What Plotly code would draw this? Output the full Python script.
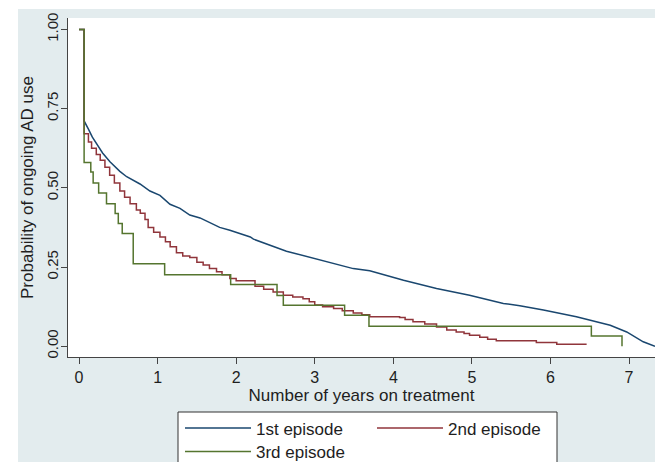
import plotly.graph_objects as go

# ---- data ----
# 1st episode (Kaplan-Meier estimate, dense steps -> drawn as a line)
t_ep1 = [0, 0.065, 0.065, 0.08, 0.12, 0.17, 0.225, 0.30, 0.394, 0.52, 0.607, 0.776, 0.903,
         1.03, 1.158, 1.285, 1.41, 1.54, 1.79, 1.92, 2.18, 2.22, 2.64, 3.07, 3.49, 3.70,
         4.13, 4.55, 4.97, 5.40, 5.61, 5.91, 6.33, 6.76, 6.97, 7.18, 7.33]
p_ep1 = [1.0, 1.0, 0.711, 0.705, 0.685, 0.66, 0.64, 0.61, 0.582, 0.552, 0.535, 0.512, 0.49,
         0.476, 0.448, 0.435, 0.414, 0.405, 0.375, 0.366, 0.345, 0.338, 0.30, 0.272, 0.245,
         0.238, 0.208, 0.182, 0.161, 0.135, 0.128, 0.114, 0.093, 0.066, 0.045, 0.014, 0.0]

# 2nd episode (step function)
t_ep2 = [0, 0.065, 0.12, 0.16, 0.22, 0.27, 0.33, 0.39, 0.45, 0.52, 0.58, 0.65, 0.73,
         0.78, 0.84, 0.88, 0.95, 1.03, 1.10, 1.16, 1.24, 1.32, 1.41, 1.50, 1.58, 1.66,
         1.75, 1.82, 1.92, 2.00, 2.24, 2.35, 2.47, 2.60, 2.72, 2.85, 2.93, 3.00, 3.10,
         3.24, 3.35, 3.49, 3.60, 3.70, 4.08, 4.15, 4.25, 4.40, 4.55, 4.68, 4.80, 4.90,
         4.97, 5.10, 5.20, 5.31, 5.82, 6.08, 6.46]
p_ep2 = [1.0, 0.671, 0.645, 0.625, 0.605, 0.587, 0.565, 0.54, 0.515, 0.49, 0.47, 0.45, 0.43,
         0.42, 0.40, 0.375, 0.36, 0.345, 0.33, 0.314, 0.295, 0.285, 0.28, 0.265, 0.256, 0.245,
         0.235, 0.226, 0.214, 0.207, 0.189, 0.18, 0.171, 0.161, 0.155, 0.15, 0.14, 0.13, 0.125,
         0.119, 0.112, 0.105, 0.099, 0.093, 0.091, 0.084, 0.077, 0.07, 0.061, 0.051, 0.045, 0.04,
         0.035, 0.028, 0.022, 0.017, 0.012, 0.006, 0.006]

# 3rd episode (step function)
t_ep3 = [0, 0.065, 0.15, 0.18, 0.25, 0.35, 0.46, 0.50, 0.55, 0.69, 1.09, 1.93, 2.52,
         2.60, 3.38, 3.69, 6.52, 6.91]
p_ep3 = [1.0, 0.58, 0.55, 0.515, 0.484, 0.45, 0.419, 0.387, 0.356, 0.26, 0.226, 0.195, 0.16,
         0.129, 0.098, 0.063, 0.0325, 0.0]

series_names = ["1st episode", "2nd episode", "3rd episode"]
y_tick_vals = [0, 0.25, 0.5, 0.75, 1.0]
y_tick_text = ["0.00", "0.25", "0.50", "0.75", "1.00"]
x_tick_vals = [0, 1, 2, 3, 4, 5, 6, 7]

# ---- figure ----
W, H = 655, 462
ML, MR, MT, MB = 68, 0, 18, 105
PW, PH = W - ML - MR, H - MT - MB

def px_x(px):
    return (px - ML) / PW

def px_y(py):
    return 1 - (py - MT) / PH

FONT = "Liberation Sans, Arial, Helvetica, sans-serif"
TXT = "#1e1e1e"
BG = "#e3ecee"

fig = go.Figure()
fig.add_trace(go.Scatter(x=t_ep1, y=p_ep1, mode="lines", name=series_names[0],
                         line=dict(color="#1a476f", width=1.5, shape="linear"),
                         legend="legend"))
fig.add_trace(go.Scatter(x=t_ep2, y=p_ep2, mode="lines", name=series_names[1],
                         line=dict(color="#90353b", width=1.5, shape="hv"),
                         legend="legend"))
fig.add_trace(go.Scatter(x=t_ep3, y=p_ep3, mode="lines", name=series_names[2],
                         line=dict(color="#55752f", width=1.5, shape="hv"),
                         legend="legend2"))

shapes = [
    # white strips at left and top of the picture
    dict(type="rect", xref="paper", yref="paper", x0=px_x(-5), x1=px_x(18),
         y0=px_y(H + 20), y1=px_y(-5), fillcolor="white", line=dict(width=0), layer="below"),
    dict(type="rect", xref="paper", yref="paper", x0=px_x(-5), x1=px_x(W + 5),
         y0=px_y(9), y1=px_y(-5), fillcolor="white", line=dict(width=0), layer="below"),
    # legend frame
    dict(type="rect", xref="paper", yref="paper", x0=px_x(178), x1=px_x(557),
         y0=px_y(480), y1=px_y(412), fillcolor="white",
         line=dict(color="#333333", width=1), layer="below"),
]

legend_common = dict(orientation="h", xanchor="left", yanchor="top",
                     bgcolor="rgba(0,0,0,0)", borderwidth=0, itemwidth=66,
                     font=dict(family=FONT, size=17, color=TXT), traceorder="normal")

fig.update_layout(
    width=W, height=H,
    margin=dict(l=ML, r=MR, t=MT, b=MB, autoexpand=False),
    paper_bgcolor=BG, plot_bgcolor="white",
    font=dict(family=FONT, size=17, color=TXT),
    showlegend=True,
    legend=dict(x=px_x(180), y=px_y(410.5), entrywidth=111, entrywidthmode="pixels",
                **legend_common),
    legend2=dict(x=px_x(180), y=px_y(434), **legend_common),
    shapes=shapes,
    xaxis=dict(range=[-0.14, 7.33], tickvals=x_tick_vals, ticks="outside", ticklen=6,
               tickcolor="#444", tickwidth=1, showline=True, linecolor="#444", linewidth=1,
               showgrid=False, zeroline=False, automargin=False,
               tickfont=dict(size=16, color=TXT),
               title=dict(text="Number of years on treatment", font=dict(size=17, color=TXT),
                          standoff=0)),
    yaxis=dict(range=[-0.034, 1.036], tickvals=y_tick_vals, ticktext=y_tick_text,
               ticks="outside", ticklen=6, tickcolor="#444", tickwidth=1,
               showline=True, linecolor="#444", linewidth=1, showgrid=False,
               zeroline=False, automargin=False, tickangle=-90, ticklabelstandoff=-3,
               tickfont=dict(size=15, color=TXT),
               title=dict(text="Probability of ongoing AD use", font=dict(size=17, color=TXT),
                          standoff=6)),
)

fig.write_html("out.html", config={"displayModeBar": False},
               post_script="document.body.style.margin='0';document.body.style.padding='0';")
